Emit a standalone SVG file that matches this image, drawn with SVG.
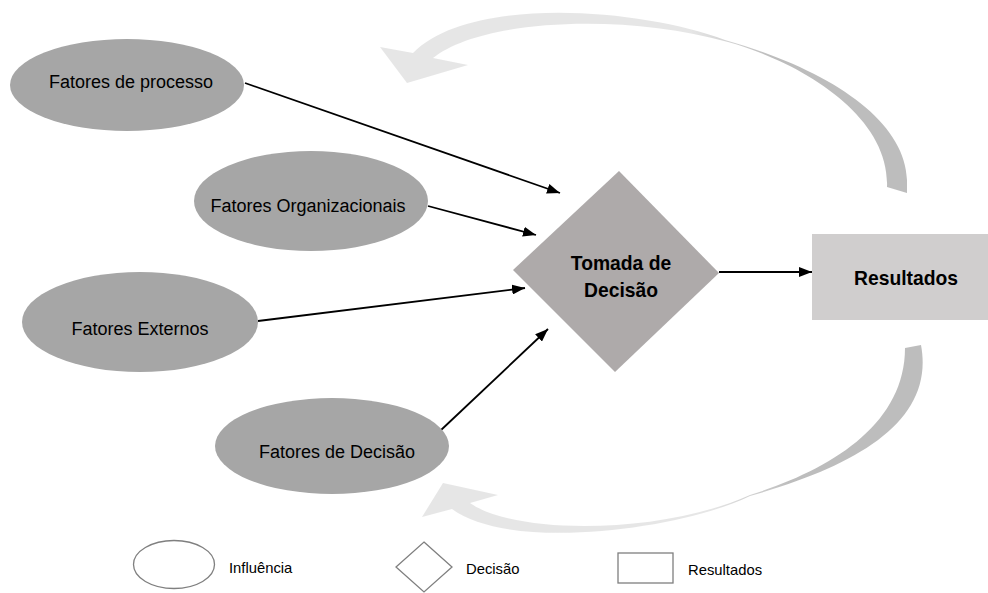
<svg xmlns="http://www.w3.org/2000/svg" width="988" height="593" viewBox="0 0 988 593">
  <defs>
    <style>
      .inf { fill: #a6a6a6; }
      .lbl { font-family: "Liberation Sans", Arial, sans-serif; font-size: 18px; fill: #000; text-anchor: middle; }
      .bold { font-weight: bold; font-size: 19.3px; }
      .leg { font-family: "Liberation Sans", Arial, sans-serif; font-size: 14.8px; fill: #000; }
      .legshape { fill: #fff; stroke: #7f7f7f; stroke-width: 1.3; }
      .conn { stroke: #000; stroke-width: 1.8; fill: none; marker-end: url(#ah); }
    </style>
    <marker id="ah" markerUnits="userSpaceOnUse" markerWidth="13" markerHeight="10" refX="13" refY="5" orient="auto">
      <path d="M0,0 L13,5 L0,10 z" fill="#000"/>
    </marker>
    <linearGradient id="gTop" gradientUnits="userSpaceOnUse" x1="690" y1="0" x2="770" y2="0">
      <stop offset="0" stop-color="#e6e6e6"/>
      <stop offset="1" stop-color="#bdbdbd"/>
    </linearGradient>
    <linearGradient id="gBot" gradientUnits="userSpaceOnUse" x1="710" y1="0" x2="790" y2="0">
      <stop offset="0" stop-color="#e6e6e6"/>
      <stop offset="1" stop-color="#bdbdbd"/>
    </linearGradient>
  </defs>
  <rect x="0" y="0" width="988" height="593" fill="#fff"/>

  <g id="feedback-top">
    <path d="M907,193 L907,180 C905,120 830,70 725,40 C640,8 470,-5 413,53 L380,47 L407,83 L468,65 L433,58 C480,20 620,12 728,42 C800,62 890,115 887,187 Z" fill="url(#gTop)"/>
  </g>
  <g id="feedback-bottom">
    <path d="M921,345 C935,420 860,465 750,496 C680,530 510,552 452,509 L422,517 L443,483 L498,495 L470,503 C515,535 660,535 750,495 C830,470 905,425 905,348 Z" fill="url(#gBot)"/>
  </g>

  <g id="connectors">
    <line class="conn" x1="245" y1="83" x2="560" y2="193"/>
    <line class="conn" x1="428" y1="206" x2="536" y2="235"/>
    <line class="conn" x1="258" y1="321" x2="525" y2="288"/>
    <line class="conn" x1="440" y1="431" x2="548" y2="329"/>
    <line class="conn" x1="719" y1="272" x2="812" y2="272"/>
  </g>

  <g id="n-processo">
    <ellipse class="inf" cx="127" cy="85" rx="117" ry="46"/>
    <text class="lbl" x="131" y="88">Fatores de processo</text>
  </g>
  <g id="n-organizacionais">
    <ellipse class="inf" cx="311" cy="201" rx="117" ry="50"/>
    <text class="lbl" x="308" y="212">Fatores Organizacionais</text>
  </g>
  <g id="n-externos">
    <ellipse class="inf" cx="140" cy="322" rx="118" ry="50"/>
    <text class="lbl" x="140" y="335">Fatores Externos</text>
  </g>
  <g id="n-decisao">
    <ellipse class="inf" cx="332" cy="446" rx="117" ry="48"/>
    <text class="lbl" x="337" y="458">Fatores de Decisão</text>
  </g>

  <g id="n-tomada">
    <polygon points="619,171 719,273 615,372 513,270" fill="#aeaaaa"/>
    <text class="lbl bold" x="621" y="270">Tomada de</text>
    <text class="lbl bold" x="621" y="297">Decisão</text>
  </g>

  <g id="n-resultados">
    <rect x="812" y="234" width="176" height="86" fill="#d0cece"/>
    <text class="lbl bold" x="906" y="285">Resultados</text>
  </g>

  <g id="legend">
    <ellipse class="legshape" cx="174" cy="564.5" rx="40.5" ry="24"/>
    <text class="leg" x="229" y="573">Influência</text>
    <polygon class="legshape" points="424,542 452,567 424,592 396,567"/>
    <text class="leg" x="466" y="574">Decisão</text>
    <rect class="legshape" x="618" y="553" width="55" height="30"/>
    <text class="leg" x="688" y="575">Resultados</text>
  </g>
</svg>
